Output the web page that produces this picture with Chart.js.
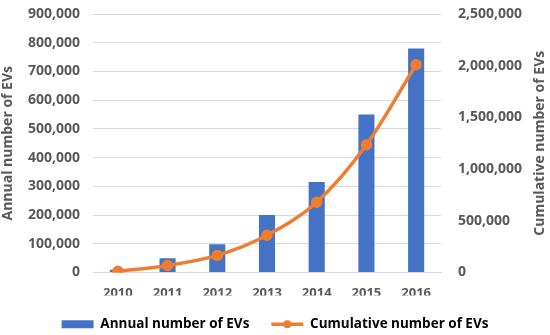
<!DOCTYPE html>
<html>
<head>
<meta charset="utf-8">
<script src="https://cdn.jsdelivr.net/npm/chart.js@4"></script>
<style>
  html, body { margin: 0; padding: 0; background: #fff; }
  #wrap { width: 550px; height: 335px; }
</style>
</head>
<body>
<div id="wrap"><canvas id="chart" width="550" height="335"></canvas></div>
<script>
const years = ['2010', '2011', '2012', '2013', '2014', '2015', '2016'];
const annualEVs = [10000, 50000, 98000, 200000, 315000, 550000, 780000];
const cumulativeEVs = [12000, 68000, 165000, 360000, 680000, 1235000, 2010000];
const annualTicks = [0, 900000, 100000];
const cumulativeTicks = [0, 2500000, 500000];

const blue = '#4472C4';
const orange = '#ED7D31';
const grey = '#595959';
const font = { family: 'Open Sans', size: 14, weight: 'bold' };

// Excel-style legend marker: put a dot on the line sample
const legendDot = {
    id: 'legendDot',
    afterDraw(chart) {
        const legend = chart.legend;
        if (!legend || !legend.legendHitBoxes[1]) return;
        const box = legend.legendHitBoxes[1];
        const ctx = chart.ctx;
        ctx.save();
        ctx.fillStyle = orange;
        ctx.beginPath();
        ctx.arc(box.left + 16, box.top + box.height / 2, 4, 0, Math.PI * 2);
        ctx.fill();
        ctx.restore();
    }
};

// right axis title reads bottom-to-top like the left one
const rightTitle = {
    id: 'rightTitle',
    afterDraw(chart) {
        const area = chart.chartArea;
        const ctx = chart.ctx;
        ctx.save();
        ctx.translate(540, (area.top + area.bottom) / 2);
        ctx.rotate(-Math.PI / 2);
        ctx.fillStyle = grey;
        ctx.font = 'bold 14px "Open Sans"';
        ctx.textAlign = 'center';
        ctx.textBaseline = 'middle';
        ctx.fillText('Cumulative number of EVs', 0, 0);
        ctx.restore();
    }
};

function fitY(width) {
    return function(scale) {
        scale.width = width;
        scale.paddingTop = 0;
        scale.paddingBottom = 0;
    };
}

new Chart(document.getElementById('chart'), {
    data: {
        labels: years,
        datasets: [{
            type: 'line',
            label: 'Cumulative number of EVs',
            data: cumulativeEVs,
            yAxisID: 'y2',
            borderColor: orange,
            backgroundColor: orange,
            borderWidth: 3.5,
            pointRadius: 4,
            pointBackgroundColor: orange,
            pointBorderColor: orange,
            cubicInterpolationMode: 'monotone',
            order: 0
        }, {
            type: 'bar',
            label: 'Annual number of EVs',
            data: annualEVs,
            yAxisID: 'y',
            backgroundColor: blue,
            barPercentage: 0.45,
            categoryPercentage: 0.72,
            order: 1
        }]
    },
    options: {
        responsive: false,
        animation: false,
        layout: { padding: { left: 0, right: 0, top: 14, bottom: -6 } },
        plugins: {
            tooltip: { enabled: false },
            legend: {
                position: 'bottom',
                labels: {
                    color: grey,
                    font: { family: 'Open Sans', size: 13.5, weight: 'bold' },
                    usePointStyle: true,
                    pointStyleWidth: 32,
                    boxHeight: 8,
                    padding: 22,
                    generateLabels(chart) {
                        return [
                            { text: 'Annual number of EVs', fillStyle: blue, strokeStyle: blue, lineWidth: 0, pointStyle: 'rect', datasetIndex: 1 },
                            { text: 'Cumulative number of EVs', fillStyle: orange, strokeStyle: orange, lineWidth: 3.5, pointStyle: 'line', datasetIndex: 0 }
                        ];
                    }
                }
            }
        },
        scales: {
            x: {
                grid: { display: false },
                border: { color: '#d9d9d9' },
                ticks: { color: grey, font: { family: 'Open Sans', size: 13, weight: 'bold' }, padding: 5 },
                afterFit(scale) { scale.height = 23; }
            },
            y: {
                position: 'left',
                min: annualTicks[0],
                max: annualTicks[1],
                ticks: { stepSize: annualTicks[2], color: grey, font: font, padding: 13 },
                grid: { color: '#d9d9d9', drawTicks: false },
                border: { display: false },
                title: { display: true, text: 'Annual number of EVs', color: grey, font: { family: 'Open Sans', size: 14, weight: 'bold' }, padding: 0 },
                afterFit: fitY(93)
            },
            y2: {
                position: 'right',
                min: cumulativeTicks[0],
                max: cumulativeTicks[1],
                ticks: { stepSize: cumulativeTicks[2], color: grey, font: font, padding: 17 },
                grid: { display: false, drawTicks: false },
                border: { display: false },
                afterFit: fitY(109)
            }
        }
    },
    plugins: [legendDot, rightTitle]
});
</script>
</body>
</html>
